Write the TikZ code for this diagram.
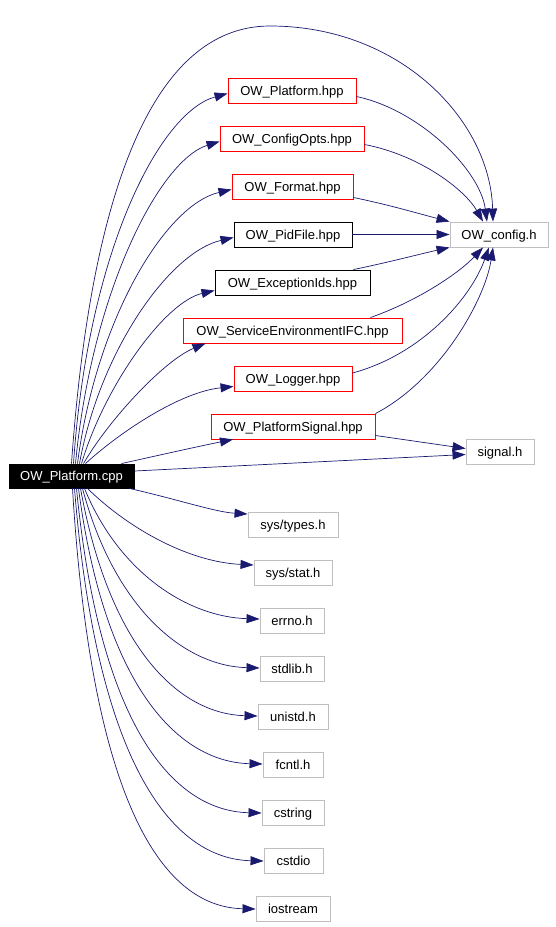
\documentclass[tikz,border=0pt]{standalone}
\usepackage{fontspec}
\setmainfont{Liberation Sans}
\usetikzlibrary{arrows.meta}
\definecolor{edgeblue}{HTML}{191970}
\definecolor{boxgrey}{HTML}{BFBFBF}
\tikzset{
  box/.style={draw, rectangle, line width=0.9pt, inner sep=0pt, minimum height=25pt, text height=9.4pt, text depth=0pt, font=\fontsize{13}{15}\selectfont},
  redbox/.style={box, draw=red},
  blackbox/.style={box, draw=black},
  greybox/.style={box, draw=boxgrey},
  rootbox/.style={box, draw=black, fill=black, text=white, minimum height=24pt},
  dep/.style={draw=edgeblue, line width=0.7pt, -{Triangle[length=13pt,width=9pt]}, fill=none},
}
\begin{document}
\begin{tikzpicture}[x=1pt,y=-1pt]
\useasboundingbox (0,0) rectangle (555,927);
% nodes
\node[rootbox, minimum width=125pt] (cpp) at (71.5,476) {OW\_Platform.cpp};
\node[redbox, minimum width=128pt] (plh) at (292,90.5) {OW\_Platform.hpp};
\node[redbox, minimum width=144pt] (opts) at (292,138.5) {OW\_ConfigOpts.hpp};
\node[redbox, minimum width=121pt] (fmt) at (292.5,186.5) {OW\_Format.hpp};
\node[blackbox, minimum width=118pt] (pid) at (293,234.5) {OW\_PidFile.hpp};
\node[blackbox, minimum width=155pt] (exc) at (292.5,282.5) {OW\_ExceptionIds.hpp};
\node[redbox, minimum width=219pt] (svc) at (292.5,330.5) {OW\_ServiceEnvironmentIFC.hpp};
\node[redbox, minimum width=118pt] (log) at (293,378.5) {OW\_Logger.hpp};
\node[redbox, minimum width=164pt] (psig) at (293,426.5) {OW\_PlatformSignal.hpp};
\node[greybox, minimum width=98pt] (cfg) at (499,234.5) {OW\_config.h};
\node[greybox, minimum width=68pt] (sig) at (500,451.5) {signal.h};
\node[greybox, minimum width=90pt] (types) at (293,525) {sys/types.h};
\node[greybox, minimum width=78pt] (stat) at (293,573) {sys/stat.h};
\node[greybox, minimum width=64pt] (errno) at (292,621) {errno.h};
\node[greybox, minimum width=64pt] (stdlib) at (292,669) {stdlib.h};
\node[greybox, minimum width=70pt] (unistd) at (293,717) {unistd.h};
\node[greybox, minimum width=60pt] (fcntl) at (293,765) {fcntl.h};
\node[greybox, minimum width=62pt] (cstring) at (293,813) {cstring};
\node[greybox, minimum width=59pt] (cstdio) at (293.5,861) {cstdio};
\node[greybox, minimum width=74pt] (iostream) at (293,909) {iostream};
% edges from cpp upwards
\draw[dep] (cpp.north) .. controls (90,200) and (150,26) .. (270,26) .. controls (400,26) and (490,120) .. ([xshift=-6pt]cfg.north);
\draw[dep] ([xshift=2pt]cpp.north) .. controls (88,250) and (160,112) .. ([yshift=-3pt]plh.west);
\draw[dep] ([xshift=4pt]cpp.north) .. controls (92,290) and (160,160) .. ([yshift=-3pt]opts.west);
\draw[dep] ([xshift=6pt]cpp.north) .. controls (96,320) and (165,205) .. ([yshift=-3pt]fmt.west);
\draw[dep] ([xshift=8pt]cpp.north) .. controls (100,350) and (170,252) .. ([yshift=-3pt]pid.west);
\draw[dep] ([xshift=10pt]cpp.north) .. controls (105,385) and (165,302) .. ([yshift=-8pt]exc.west);
\draw[dep] ([xshift=12pt]cpp.north) .. controls (110,418) and (165,360) .. ([xshift=-87pt]svc.south);
\draw[dep] ([xshift=14pt]cpp.north) .. controls (120,432) and (180,392) .. ([yshift=-8pt]log.west);
\draw[dep] ([xshift=50pt]cpp.north) .. controls (160,455) and (200,446) .. ([xshift=-60pt]psig.south);
\draw[dep] ([yshift=5pt]cpp.east) -- ([yshift=-3pt]sig.west);
% edges from cpp downwards
\draw[dep] ([xshift=-5pt]cpp.south east) .. controls (180,500) and (215,512) .. ([yshift=11pt]types.west);
\draw[dep] ([xshift=16pt]cpp.south) .. controls (130,530) and (190,562) .. ([yshift=8pt]stat.west);
\draw[dep] ([xshift=13pt]cpp.south) .. controls (120,575) and (190,617) .. ([yshift=2pt]errno.west);
\draw[dep] ([xshift=11pt]cpp.south) .. controls (115,610) and (185,666) .. ([yshift=1pt]stdlib.west);
\draw[dep] ([xshift=9pt]cpp.south) .. controls (110,650) and (180,714) .. ([yshift=1pt]unistd.west);
\draw[dep] ([xshift=7pt]cpp.south) .. controls (105,690) and (180,762) .. ([yshift=1pt]fcntl.west);
\draw[dep] ([xshift=5pt]cpp.south) .. controls (100,730) and (175,811) .. (cstring.west);
\draw[dep] ([xshift=3pt]cpp.south) .. controls (97,770) and (175,859) .. (cstdio.west);
\draw[dep] ([xshift=1pt]cpp.south) .. controls (92,810) and (165,907) .. (iostream.west);
% edges into OW_config.h
\draw[dep] ([yshift=-6pt]plh.east) .. controls (420,110) and (480,170) .. ([xshift=-12pt]cfg.north);
\draw[dep] ([yshift=-6pt]opts.east) .. controls (420,155) and (465,190) .. ([xshift=-16pt]cfg.north);
\draw[dep] ([yshift=-11pt]fmt.east) .. controls (390,205) and (420,214) .. (cfg.north west);
\draw[dep] (pid.east) -- (cfg.west);
\draw[dep] ([xshift=-17pt]exc.north east) .. controls (390,262) and (420,254) .. (cfg.south west);
\draw[dep] ([xshift=-32pt]svc.north east) .. controls (420,300) and (460,272) .. ([xshift=-16pt]cfg.south);
\draw[dep] ([yshift=5.5pt]log.east) .. controls (420,355) and (470,300) .. ([xshift=-10pt]cfg.south);
\draw[dep] (psig.north east) .. controls (440,380) and (485,300) .. ([xshift=-6pt]cfg.south);
\draw[dep] ([yshift=-9pt]psig.east) -- ([yshift=3pt]sig.west);
\end{tikzpicture}
\end{document}
